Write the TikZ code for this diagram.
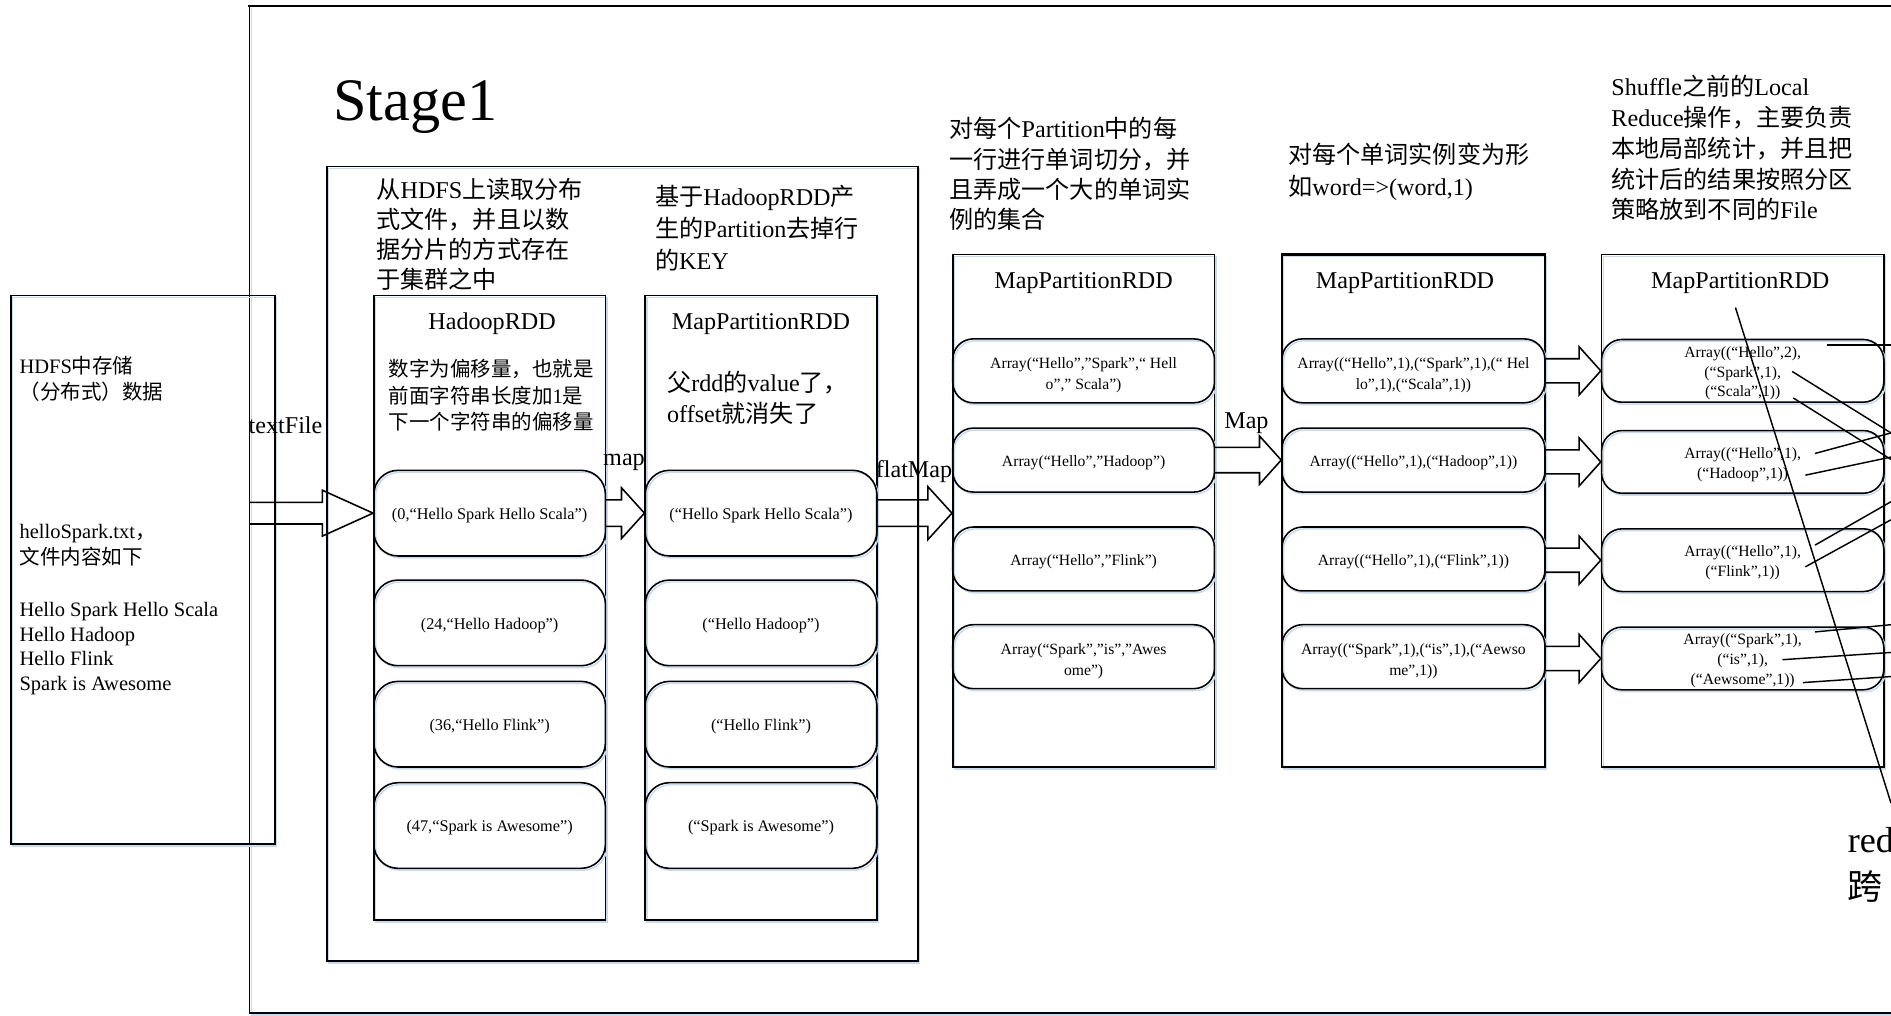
\documentclass[tikz,border=0pt]{standalone}
\usepackage{fontspec}
\setmainfont{Liberation Serif}
\newfontfamily\cjkfont{Noto Sans CJK SC}
\usetikzlibrary{calc,shadows}
\newcommand\zh[1]{{\cjkfont #1}}
\newcommand\topstrut{\rule{0pt}{0.9em}}
\newcommand\lowstrut{\rule{0pt}{1.25em}}
\newcommand\midstrut{\rule{0pt}{1.0em}}
\definecolor{edgeblue}{RGB}{200,218,240}

% block arrow: tail point, tip point, head length, shaft half height, head half height
\newcommand\blockarrow[5]{%
  \draw[barrowline] let \p1=(#1), \p2=(#2) in
    (\x1,\y2+#4) -- (\x2-#3,\y2+#4) -- (\x2-#3,\y2+#5) -- (\x2,\y2)
    -- (\x2-#3,\y2-#5) -- (\x2-#3,\y2-#4) -- (\x1,\y2-#4);
}

\tikzset{
  fs/.style 2 args={font=\fontsize{#1}{#2}\selectfont},
  outline/.style={draw=black, line width=1.3pt,
    general shadow={draw=edgeblue, line width=1.2pt, shadow xshift=1.4pt, shadow yshift=-1.6pt}},
  panel/.style={outline, rectangle, inner sep=0pt},
  pill/.style={outline, rectangle, rounded corners=17pt, inner sep=0pt, align=center},
  note/.style={anchor=north west, inner sep=0pt, align=left},
  title/.style={inner sep=0pt, fs={20}{24}},
  oplabel/.style={anchor=west, inner sep=0pt, fs={20}{24}},
  barrowline/.style={draw=black, line width=1.3pt, line join=miter},
  wire/.style={draw=black, line width=1.2pt},
}

\begin{document}
\begin{tikzpicture}[x=1pt, y=-1pt]
\useasboundingbox (0,0) rectangle (1568,842);

% outer stage frame (continues past the right edge)
\draw[line width=1.3pt, general shadow={draw=edgeblue, line width=1.2pt, shadow xshift=1.4pt, shadow yshift=-1.6pt}]
  (1600,840) -- (207,840) -- (207,5);
\draw[line width=2.2pt] (206,5) -- (1600,5);

% source data
\node[panel, minimum width=219pt, minimum height=455pt] (hdfs) at (118.5,472.5) {};
\node[note, fs={17}{22}] (hdfsa) at (16,293.8) {\topstrut HDFS\zh{中存储}\\\zh{（分布式）数据}};
\node[note, fs={17}{22}] (hdfsb) at (16,430.8) {\topstrut helloSpark.txt\zh{，}\\\zh{文件内容如下}};
\node[note, fs={17}{20.3}] (hdfsc) at (16,495.8) {\topstrut Hello Spark Hello Scala\\Hello Hadoop\\Hello Flink\\Spark is Awesome};

% stage heading
\node[anchor=base west, inner sep=0pt, fs={50}{54}] (stagelbl) at (276,100) {Stage1};

% first group: HadoopRDD and MapPartitionRDD
\node[panel, minimum width=490pt, minimum height=659pt] (stage) at (516,467.5) {};
\node[note, fs={20}{25}] (readnote) at (312,146.2)
  {\topstrut\zh{从}HDFS\zh{上读取分布}\\\zh{式文件，并且以数}\\\zh{据分片的方式存在}\\\zh{于集群之中}};
\node[note, fs={20}{26.5}] (keynote) at (543,152.2)
  {\topstrut\zh{基于}HadoopRDD\zh{产}\\\zh{生的}Partition\zh{去掉行}\\\zh{的}KEY};

\node[panel, minimum width=192pt, minimum height=518pt] (hrdd) at (406,504) {};
\node[panel, minimum width=192pt, minimum height=518pt] (mrdd) at (631,504) {};
\node[title] (htitle) at (408,268.5) {HadoopRDD};
\node[title] (mtitle) at (631,268.5) {MapPartitionRDD};
\node[note, fs={17}{22}] (offnote) at (322,296.8)
  {\topstrut\zh{数字为偏移量，也就是}\\\zh{前面字符串长度加}1\zh{是}\\\zh{下一个字符串的偏移量}};
\node[note, fs={20}{26}] (valnote) at (553,306.2)
  {\topstrut\zh{父}rdd\zh{的}value\zh{了，}\\offset\zh{就消失了}};

\foreach \nm/\yy/\txt in {ha/425.5/{(0,“Hello Spark Hello Scala”)},
                          hb/516.5/{(24,“Hello Hadoop”)},
                          hc/600.5/{(36,“Hello Flink”)},
                          hd/684.5/{(47,“Spark is Awesome”)}}
  \node[pill, rounded corners=20pt, minimum width=192pt, minimum height=71pt, fs={13.5}{16}] (\nm) at (406,\yy) {\midstrut\txt};
\foreach \nm/\yy/\txt in {ma/425.5/{(“Hello Spark Hello Scala”)},
                          mb/516.5/{(“Hello Hadoop”)},
                          mc/600.5/{(“Hello Flink”)},
                          md/684.5/{(“Spark is Awesome”)}}
  \node[pill, rounded corners=20pt, minimum width=192pt, minimum height=71pt, fs={13.5}{16}] (\nm) at (631,\yy) {\midstrut\txt};

% word split column
\node[note, fs={20}{25}] (splitnote) at (787,96.2)
  {\topstrut\zh{对每个}Partition\zh{中的每}\\\zh{一行进行单词切分，并}\\\zh{且弄成一个大的单词实}\\\zh{例的集合}};
\node[panel, minimum width=217pt, minimum height=425pt] (colc) at (898.5,423.5) {};
\node[title] (ctitle) at (898.5,235) {MapPartitionRDD};
\node[pill, minimum width=217pt, minimum height=53pt, fs={13}{17}] (ca) at (898.5,307.5) {\lowstrut Array(“Hello”,”Spark”,“ Hell\\o”,” Scala”)};
\node[pill, minimum width=217pt, minimum height=53pt, fs={13}{17}] (cb) at (898.5,381.5) {\midstrut Array(“Hello”,”Hadoop”)};
\node[pill, minimum width=217pt, minimum height=53pt, fs={13}{17}] (cc) at (898.5,463.5) {\midstrut Array(“Hello”,”Flink”)};
\node[pill, minimum width=217pt, minimum height=53pt, fs={13}{17}] (cd) at (898.5,544.5) {\lowstrut Array(“Spark”,”is”,”Awes\\ome”)};

% pair column
\node[note, fs={20}{27}] (pairnote) at (1068,117.2)
  {\topstrut\zh{对每个单词实例变为形}\\\zh{如}word=>(word,1)};
\node[panel, line width=2pt, minimum width=218pt, minimum height=425pt] (cold) at (1172,423.5) {};
\node[title] (dtitle) at (1165,235) {MapPartitionRDD};
\node[pill, minimum width=218pt, minimum height=53pt, fs={13}{17}] (da) at (1172,307.5) {\lowstrut Array((“Hello”,1),(“Spark”,1),(“ Hel\\lo”,1),(“Scala”,1))};
\node[pill, minimum width=218pt, minimum height=53pt, fs={13}{17}] (db) at (1172,381.5) {\midstrut Array((“Hello”,1),(“Hadoop”,1))};
\node[pill, minimum width=218pt, minimum height=53pt, fs={13}{17}] (dc) at (1172,463.5) {\midstrut Array((“Hello”,1),(“Flink”,1))};
\node[pill, minimum width=218pt, minimum height=53pt, fs={13}{17}] (dd) at (1172,544.5) {\lowstrut Array((“Spark”,1),(“is”,1),(“Aewso\\me”,1))};

% local reduce column
\node[note, fs={20}{25.5}] (reducenote) at (1336,61.2)
  {\topstrut Shuffle\zh{之前的}Local\\Reduce\zh{操作，主要负责}\\\zh{本地局部统计，并且把}\\\zh{统计后的结果按照分区}\\\zh{策略放到不同的}File};
\node[panel, minimum width=234pt, minimum height=425pt] (cole) at (1445,423.5) {};
\node[title] (etitle) at (1443,235) {MapPartitionRDD};
\node[pill, minimum width=234pt, minimum height=52pt, fs={13}{16.5}] (ea) at (1445,307.5) {\midstrut Array((“Hello”,2),\\(“Spark”,1),\\(“Scala”,1))};
\node[pill, minimum width=234pt, minimum height=52pt, fs={13}{16.5}] (eb) at (1445,383) {\midstrut Array((“Hello”,1),\\(“Hadoop”,1))};
\node[pill, minimum width=234pt, minimum height=52pt, fs={13}{16.5}] (ec) at (1445,464.5) {\midstrut Array((“Hello”,1),\\(“Flink”,1))};
\node[pill, minimum width=234pt, minimum height=52pt, fs={13}{16.5}] (ed) at (1445,546) {\midstrut Array((“Spark”,1),\\(“is”,1),\\(“Aewsome”,1))};

% operation arrows
\coordinate (tfstart) at (207,425.5);
\blockarrow{tfstart}{ha.west}{42}{9}{19}
\blockarrow{ha.east}{ma.west}{19}{11}{21}
\blockarrow{ma.east}{colc.west |- ma.east}{20}{11}{22}
\blockarrow{cb.east}{db.west}{18}{10.5}{20}
\blockarrow{da.east}{ea.west}{18}{10}{20}
\blockarrow{db.east}{eb.west}{18}{10}{20}
\blockarrow{dc.east}{ec.west}{18}{10}{20}
\blockarrow{dd.east}{ed.west}{18}{10}{20}

\node[oplabel] (tflbl) at (206,353) {textFile};
\node[oplabel] (maplbl) at (500,383) {map};
\node[oplabel] (fmlbl) at (726,391) {flatMap};
\node[oplabel] (Maplbl) at (1015,351) {Map};

% shuffle wires leaving the stage
\coordinate (w1a) at (1515,286);  \coordinate (w1b) at (1568,286);
\coordinate (w2a) at (1486,308);  \coordinate (w2b) at (1568,359);
\coordinate (w3a) at (1487,330);  \coordinate (w3b) at (1568,381);
\coordinate (w4a) at (1505,376);  \coordinate (w4b) at (1568,359);
\coordinate (w5a) at (1497,394);  \coordinate (w5b) at (1568,379);
\coordinate (w6a) at (1505,452);  \coordinate (w6b) at (1568,416);
\coordinate (w7a) at (1497,470);  \coordinate (w7b) at (1568,431);
\coordinate (w8a) at (1505,524);  \coordinate (w8b) at (1568,518);
\coordinate (w9a) at (1478,547);  \coordinate (w9b) at (1568,541);
\coordinate (w10a) at (1495,566); \coordinate (w10b) at (1568,561);
\foreach \k in {1,...,10} \draw[wire] (w\k a) -- (w\k b);

\coordinate (diagtop) at (1439,255);
\coordinate (diagend) at (1568,666);
\draw[wire] (diagtop) -- (diagend);

\node[anchor=base west, inner sep=0pt, fs={30}{36}] (redlbl) at (1532,707) {red};
\node[anchor=base west, inner sep=0pt, fs={29}{36}] (kualbl) at (1532,746) {\zh{跨}};
\end{tikzpicture}
\end{document}
